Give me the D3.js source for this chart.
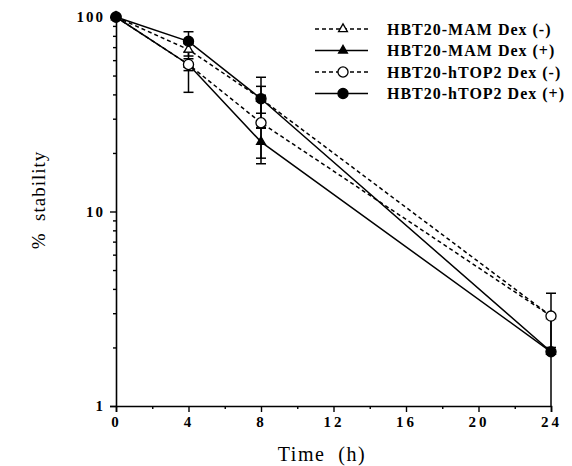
<!DOCTYPE html>
<html>
<head>
<meta charset="utf-8">
<script src="https://cdn.jsdelivr.net/npm/d3@7"></script>
<style>
  body { margin: 0; background: #fff; }
  svg { display: block; }
</style>
</head>
<body>
<div id="chart"></div>
<script>
// time points (h) and % stability for each construct
var times = [0, 4, 8, 24];
var seriesNames = ["HBT20-MAM Dex (-)", "HBT20-MAM Dex (+)", "HBT20-hTOP2 Dex (-)", "HBT20-hTOP2 Dex (+)"];
var mamMinus = [100, 68, 38, 2.9];
var mamPlus = [100, 57, 22.8, 1.9];
var top2Minus = [100, 57, 28.6, 2.9];
var top2Plus = [100, 75, 38, 1.9];
// symmetric error (+/-)
var mamMinusErr = [0, 5, 6, 0];
var mamPlusErr = [0, 4, 4, 0];
var top2MinusErr = [0, 16, 11, 0.9];
var top2PlusErr = [0, 9, 11, 0.95];

var xMajorTicks = [0, 4, 8, 12, 16, 20, 24];
var xMinorTicks = [2, 6, 10, 14, 18, 22];
var yMajorTicks = [1, 10, 100];
var yMinorTicks = [2, 3, 4, 5, 6, 7, 8, 9, 20, 30, 40, 50, 60, 70, 80, 90];

(function () {
    "use strict";

    var vFont = "'Liberation Serif', 'Times New Roman', serif";
    var vMargin = { mTop: 17, mRight: 21, mBottom: 60, mLeft: 116 },
        vWidth = 572 - vMargin.mLeft - vMargin.mRight,
        vHeight = 466 - vMargin.mTop - vMargin.mBottom;

    var svg = d3.select("#chart")
        .append("svg")
        .attr("width", 572)
        .attr("height", 466)
        .style("font-family", vFont);

    var g = svg.append("g")
        .attr("transform", "translate(" + vMargin.mLeft + "," + vMargin.mTop + ")");

    var x = d3.scaleLinear().domain([0, 24]).range([0, vWidth]);
    var y = d3.scaleLog().domain([1, 100]).range([vHeight, 0]);

    // axes: major with labels, minor without
    var xAxis = g.append("g")
        .attr("transform", "translate(0," + vHeight + ")")
        .call(d3.axisBottom(x).tickValues(xMajorTicks).tickSize(6).tickPadding(4)
            .tickFormat(d3.format("d")));
    g.append("g")
        .attr("transform", "translate(0," + vHeight + ")")
        .call(d3.axisBottom(x).tickValues(xMinorTicks).tickSize(3).tickFormat(""))
        .select(".domain").remove();

    var yAxis = g.append("g")
        .call(d3.axisLeft(y).tickValues(yMajorTicks).tickSize(6).tickPadding(5)
            .tickFormat(d3.format("d")));
    g.append("g")
        .call(d3.axisLeft(y).tickValues(yMinorTicks).tickSize(3).tickFormat(""))
        .select(".domain").remove();

    g.selectAll(".domain").attr("stroke-width", 1.6);
    g.selectAll(".tick line").attr("stroke-width", 1.4);

    xAxis.selectAll("text")
        .style("font-family", vFont)
        .style("font-size", "15px")
        .style("font-weight", "bold")
        .style("letter-spacing", "3px")
        .attr("fill", "#000");
    yAxis.selectAll("text")
        .style("font-family", vFont)
        .style("font-size", "15px")
        .style("font-weight", "bold")
        .style("letter-spacing", "2px")
        .attr("fill", "#000");

    svg.append("text")
        .attr("x", 322)
        .attr("y", 461)
        .attr("text-anchor", "middle")
        .style("font-size", "20px")
        .style("letter-spacing", "1.5px")
        .style("white-space", "pre")
        .text("Time  (h)");

    svg.append("text")
        .attr("transform", "translate(45,200) rotate(-90)")
        .attr("text-anchor", "middle")
        .style("font-size", "19px")
        .style("letter-spacing", "1px")
        .style("white-space", "pre")
        .text("%  stability");

    var series = [
        { name: seriesNames[0], values: mamMinus, err: mamMinusErr, dash: "4,3", marker: "tri", fill: "#fff" },
        { name: seriesNames[1], values: mamPlus, err: mamPlusErr, dash: null, marker: "tri", fill: "#000" },
        { name: seriesNames[2], values: top2Minus, err: top2MinusErr, dash: "4,3", marker: "circle", fill: "#fff" },
        { name: seriesNames[3], values: top2Plus, err: top2PlusErr, dash: null, marker: "circle", fill: "#000" }
    ];

    var line = d3.line()
        .x(function (d) { return x(d.t); })
        .y(function (d) { return y(d.v); });

    function points(s) {
        return times.map(function (t, i) { return { t: t, v: s.values[i], e: s.err[i] }; });
    }

    // lines
    series.forEach(function (s) {
        g.append("path")
            .datum(points(s))
            .attr("d", line)
            .attr("fill", "none")
            .attr("stroke", "#000")
            .attr("stroke-width", 1.5)
            .attr("stroke-dasharray", s.dash);
    });

    // error bars
    series.forEach(function (s) {
        var eb = g.append("g").selectAll("g")
            .data(points(s).filter(function (d) { return d.e > 0; }))
            .enter().append("g")
            .attr("stroke", "#000")
            .attr("stroke-width", 1.5);
        eb.append("line")
            .attr("x1", function (d) { return x(d.t); })
            .attr("x2", function (d) { return x(d.t); })
            .attr("y1", function (d) { return y(d.v + d.e); })
            .attr("y2", function (d) { return y(Math.max(1, d.v - d.e)); });
        eb.append("line")
            .attr("x1", function (d) { return x(d.t) - 5; })
            .attr("x2", function (d) { return x(d.t) + 5; })
            .attr("y1", function (d) { return y(d.v + d.e); })
            .attr("y2", function (d) { return y(d.v + d.e); });
        eb.filter(function (d) { return d.v - d.e > 1; })
            .append("line")
            .attr("x1", function (d) { return x(d.t) - 5; })
            .attr("x2", function (d) { return x(d.t) + 5; })
            .attr("y1", function (d) { return y(d.v - d.e); })
            .attr("y2", function (d) { return y(d.v - d.e); });
    });

    var triSym = d3.symbol().type(d3.symbolTriangle).size(34);
    var circSym = d3.symbol().type(d3.symbolCircle).size(80);

    function drawMarker(sel, s) {
        sel.append("path")
            .attr("d", s.marker === "tri" ? triSym() : circSym())
            .attr("fill", s.fill)
            .attr("stroke", "#000")
            .attr("stroke-width", 1.3);
    }

    // markers
    series.forEach(function (s) {
        g.append("g").selectAll("g")
            .data(points(s))
            .enter().append("g")
            .attr("transform", function (d) { return "translate(" + x(d.t) + "," + y(d.v) + ")"; })
            .each(function () { drawMarker(d3.select(this), s); });
    });

    // legend
    var legend = svg.append("g").attr("transform", "translate(315,29)");
    var items = legend.selectAll("g")
        .data(series)
        .enter().append("g")
        .attr("transform", function (d, i) { return "translate(0," + (i * 21.5) + ")"; });
    items.append("line")
        .attr("x1", 0).attr("x2", 53)
        .attr("stroke", "#000")
        .attr("stroke-width", 1.5)
        .attr("stroke-dasharray", function (d) { return d.dash; });
    items.append("g")
        .attr("transform", "translate(28,0)")
        .each(function (d) { drawMarker(d3.select(this), d); });
    items.append("text")
        .attr("x", 72)
        .attr("dy", "0.35em")
        .style("font-size", "16px")
        .style("font-weight", "bold")
        .style("letter-spacing", "1px")
        .text(function (d) { return d.name; });
})();
</script>
</body>
</html>
